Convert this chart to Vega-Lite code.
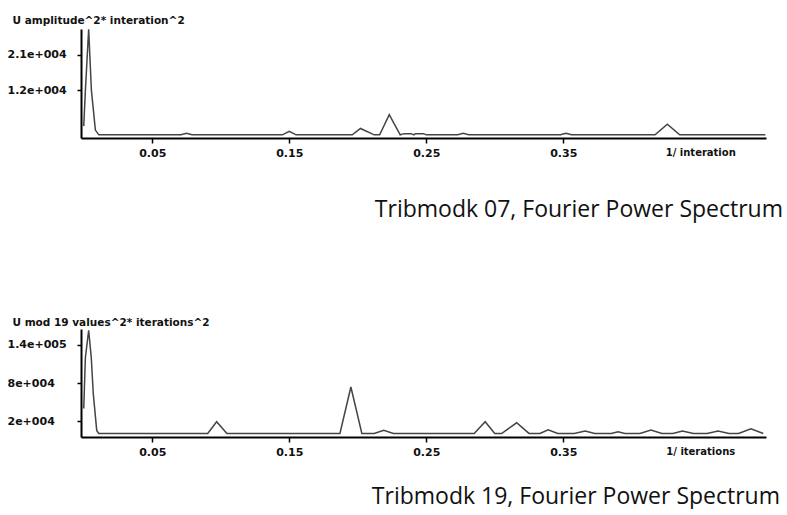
{
  "$schema": "https://vega.github.io/schema/vega-lite/v6.json",
  "background": "white",
  "autosize": {"type": "pad"},
  "padding": {"left": 7, "top": 15, "right": 0, "bottom": 0},
  "bounds": "flush",
  "spacing": 191,
  "config": {
    "view": {"stroke": null},
    "axis": {
      "grid": false,
      "domainColor": "black",
      "domainWidth": 2,
      "tickColor": "black",
      "tickWidth": 1.5,
      "labelFont": "DejaVu Sans",
      "labelFontSize": 11,
      "labelFontWeight": "bold",
      "labelColor": "#111",
      "titleFont": "DejaVu Sans",
      "titleFontSize": 10.5,
      "titleFontWeight": "bold",
      "titleColor": "#111"
    },
    "title": {"font": "Open Sans", "fontSize": 23, "fontWeight": "normal", "color": "#111"}
  },
  "datasets": {
    "u07": [
      {"freq": 0, "power": 3000}, {"freq": 0.0012, "power": 12000}, {"freq": 0.0036, "power": 27400},
      {"freq": 0.0056, "power": 12000}, {"freq": 0.0085, "power": 2000}, {"freq": 0.011, "power": 800},
      {"freq": 0.071, "power": 800}, {"freq": 0.075, "power": 1200}, {"freq": 0.079, "power": 800},
      {"freq": 0.145, "power": 800}, {"freq": 0.15, "power": 1700}, {"freq": 0.155, "power": 800},
      {"freq": 0.196, "power": 800}, {"freq": 0.202, "power": 2400}, {"freq": 0.212, "power": 800},
      {"freq": 0.216, "power": 800}, {"freq": 0.223, "power": 5900}, {"freq": 0.231, "power": 800},
      {"freq": 0.234, "power": 1100}, {"freq": 0.239, "power": 1100}, {"freq": 0.241, "power": 800},
      {"freq": 0.242, "power": 1100}, {"freq": 0.248, "power": 1100}, {"freq": 0.25, "power": 800},
      {"freq": 0.273, "power": 800}, {"freq": 0.277, "power": 1200}, {"freq": 0.281, "power": 800},
      {"freq": 0.348, "power": 800}, {"freq": 0.352, "power": 1200}, {"freq": 0.356, "power": 800},
      {"freq": 0.417, "power": 800}, {"freq": 0.426, "power": 3500}, {"freq": 0.435, "power": 800},
      {"freq": 0.4975, "power": 800}
    ],
    "u19": [
      {"freq": 0, "power": 40000}, {"freq": 0.0012, "power": 120000}, {"freq": 0.0036, "power": 163000},
      {"freq": 0.0055, "power": 120000}, {"freq": 0.007, "power": 62000}, {"freq": 0.0095, "power": 5000},
      {"freq": 0.011, "power": 500},
      {"freq": 0.0905, "power": 500}, {"freq": 0.097, "power": 19000}, {"freq": 0.1045, "power": 500},
      {"freq": 0.187, "power": 500}, {"freq": 0.195, "power": 73700}, {"freq": 0.203, "power": 500},
      {"freq": 0.212, "power": 500}, {"freq": 0.219, "power": 5500}, {"freq": 0.226, "power": 500},
      {"freq": 0.285, "power": 500}, {"freq": 0.293, "power": 19000}, {"freq": 0.3, "power": 500},
      {"freq": 0.305, "power": 500}, {"freq": 0.316, "power": 17400}, {"freq": 0.325, "power": 600},
      {"freq": 0.333, "power": 600}, {"freq": 0.339, "power": 6500}, {"freq": 0.346, "power": 600},
      {"freq": 0.358, "power": 600}, {"freq": 0.366, "power": 4300}, {"freq": 0.373, "power": 600},
      {"freq": 0.385, "power": 600}, {"freq": 0.39, "power": 3200}, {"freq": 0.395, "power": 600},
      {"freq": 0.406, "power": 600}, {"freq": 0.414, "power": 5800}, {"freq": 0.422, "power": 600},
      {"freq": 0.43, "power": 600}, {"freq": 0.437, "power": 4300}, {"freq": 0.445, "power": 600},
      {"freq": 0.455, "power": 600}, {"freq": 0.463, "power": 4300}, {"freq": 0.471, "power": 600},
      {"freq": 0.478, "power": 600}, {"freq": 0.487, "power": 7900}, {"freq": 0.496, "power": 600}
    ]
  },
  "vconcat": [
    {
      "data": {"name": "u07"},
      "width": 685,
      "height": 109,
      "title": {"text": "Tribmodk 07, Fourier Power Spectrum", "orient": "bottom", "anchor": "end", "frame": "group", "offset": 41, "dx": 17},
      "mark": {"type": "line", "color": "#444", "strokeWidth": 1.5},
      "encoding": {
        "x": {
          "field": "freq", "type": "quantitative",
          "scale": {"domain": [-0.002, 0.498], "nice": false, "zero": false},
          "axis": {
            "title": null,
            "values": [0.05, 0.15, 0.25, 0.35, 0.45],
            "labelExpr": "datum.value > 0.4 ? '1/ interation' : format(datum.value, '.2f')",
            "tickSize": 5, "labelPadding": 4, "labelFlush": false, "labelOverlap": false,
            "tickOpacity": {"condition": {"test": "datum.value > 0.4", "value": 0}, "value": 1},
            "labelFontSize": {"condition": {"test": "datum.value > 0.4", "value": 10}, "value": 11}
          }
        },
        "y": {
          "field": "power", "type": "quantitative",
          "scale": {"domain": [0, 27500], "nice": false},
          "axis": {
            "title": "U amplitude^2* interation^2",
            "titleAngle": 0, "titleAlign": "left", "titleBaseline": "middle", "titleX": -69, "titleY": -9,
            "values": [12000, 21000],
            "labelExpr": "replace(format(datum.value, '~e'), 'e+', 'e+00')",
            "labelAlign": "left", "labelBaseline": "middle", "labelPadding": 70, "tickSize": 4
          }
        }
      }
    },
    {
      "data": {"name": "u19"},
      "width": 685,
      "height": 108,
      "title": {"text": "Tribmodk 19, Fourier Power Spectrum", "orient": "bottom", "anchor": "end", "frame": "group", "offset": 29, "dx": 14},
      "mark": {"type": "line", "color": "#444", "strokeWidth": 1.5},
      "encoding": {
        "x": {
          "field": "freq", "type": "quantitative",
          "scale": {"domain": [-0.002, 0.498], "nice": false, "zero": false},
          "axis": {
            "title": null,
            "values": [0.05, 0.15, 0.25, 0.35, 0.45],
            "labelExpr": "datum.value > 0.4 ? '1/ iterations' : format(datum.value, '.2f')",
            "tickSize": 5, "labelPadding": 4, "labelFlush": false, "labelOverlap": false,
            "tickOpacity": {"condition": {"test": "datum.value > 0.4", "value": 0}, "value": 1},
            "labelFontSize": {"condition": {"test": "datum.value > 0.4", "value": 10}, "value": 11}
          }
        },
        "y": {
          "field": "power", "type": "quantitative",
          "scale": {"domain": [-5000, 165000], "nice": false, "zero": false},
          "axis": {
            "title": "U mod 19 values^2* iterations^2",
            "titleAngle": 0, "titleAlign": "left", "titleBaseline": "middle", "titleX": -69, "titleY": -7,
            "values": [20000, 80000, 140000],
            "labelExpr": "replace(format(datum.value, '~e'), 'e+', 'e+00')",
            "labelAlign": "left", "labelBaseline": "middle", "labelPadding": 70, "tickSize": 4
          }
        }
      }
    }
  ]
}
